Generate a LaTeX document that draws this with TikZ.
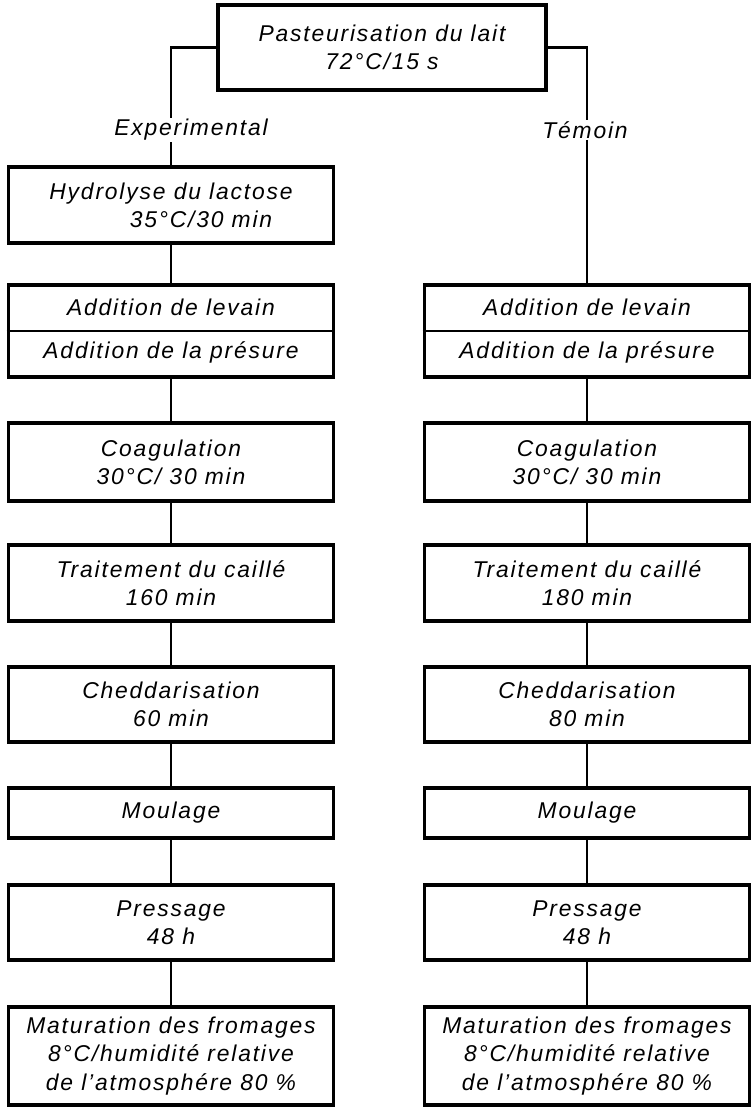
\documentclass[tikz,border=0pt]{standalone}
\usepackage{fontspec}
\setmainfont{Liberation Sans}[LetterSpace=8]
\usepackage{tikz}

\begin{document}
\begin{tikzpicture}[
	etape/.style={draw, line width=2.1pt, minimum width=6.5cm, minimum height=1.52cm, align=center, inner sep=2pt, font=\itshape\fontsize{13}{16}\selectfont},
	lien/.style={line width=1.3pt},
	etiquette/.style={fill=white, inner sep=1pt, font=\itshape\fontsize{13}{16}\selectfont}
]

		\useasboundingbox (0,0) rectangle (15,-22.14); % Cadre de la page

		% Pasteurisation
		\node[etape, minimum width=6.56cm, minimum height=1.7cm] (past) at (7.64,-0.95) {Pasteurisation du lait\\72°C/15 s};

		% Colonne experimentale
		\node[etape] (hydE) at (3.42,-4.10) {Hydrolyse du lactose\\\hspace*{1.2cm}35°C/30 min};
		\node[etape, minimum height=1.84cm] (addE) at (3.42,-6.62) {Addition de levain\\[0.3cm]Addition de la présure};
		\node[etape, minimum height=1.56cm] (coagE) at (3.42,-9.24) {Coagulation\\30°C/ 30 min};
		\node[etape] (traitE) at (3.42,-11.66) {Traitement du caillé\\160 min};
		\node[etape, minimum height=1.5cm] (chedE) at (3.42,-14.09) {Cheddarisation\\60 min};
		\node[etape, minimum height=1.0cm] (moulE) at (3.42,-16.26) {Moulage};
		\node[etape, minimum height=1.5cm] (pressE) at (3.42,-18.45) {Pressage\\48 h};
		\node[etape, minimum height=1.96cm] (matE) at (3.42,-21.12) {Maturation des fromages\\8°C/humidité relative\\de l'atmosphére 80 \%};

		% Colonne temoin
		\node[etape, minimum height=1.84cm] (addT) at (11.74,-6.62) {Addition de levain\\[0.3cm]Addition de la présure};
		\node[etape, minimum height=1.56cm] (coagT) at (11.74,-9.24) {Coagulation\\30°C/ 30 min};
		\node[etape] (traitT) at (11.74,-11.66) {Traitement du caillé\\180 min};
		\node[etape, minimum height=1.5cm] (chedT) at (11.74,-14.09) {Cheddarisation\\80 min};
		\node[etape, minimum height=1.0cm] (moulT) at (11.74,-16.26) {Moulage};
		\node[etape, minimum height=1.5cm] (pressT) at (11.74,-18.45) {Pressage\\48 h};
		\node[etape, minimum height=1.96cm] (matT) at (11.74,-21.12) {Maturation des fromages\\8°C/humidité relative\\de l'atmosphére 80 \%};

		% Separation levain / presure
		\draw[line width=0.9pt] (addE.west) -- (addE.east);
		\draw[line width=0.9pt] (addT.west) -- (addT.east);

		% Liaisons
		\draw[lien] (past.west) -| (hydE.north);
		\draw[lien] (past.east) -| (addT.north);
		\draw[lien] (hydE) -- (addE);
		\draw[lien] (addE) -- (coagE);
		\draw[lien] (coagE) -- (traitE);
		\draw[lien] (traitE) -- (chedE);
		\draw[lien] (chedE) -- (moulE);
		\draw[lien] (moulE) -- (pressE);
		\draw[lien] (pressE) -- (matE);
		\draw[lien] (addT) -- (coagT);
		\draw[lien] (coagT) -- (traitT);
		\draw[lien] (traitT) -- (chedT);
		\draw[lien] (chedT) -- (moulT);
		\draw[lien] (moulT) -- (pressT);
		\draw[lien] (pressT) -- (matT);

		% Etiquettes des branches
		\node[etiquette] (exp) at (3.82,-2.6) {Experimental};
		\node[etiquette] (tem) at (11.7,-2.6) {Témoin};

	\end{tikzpicture}
\end{document}
